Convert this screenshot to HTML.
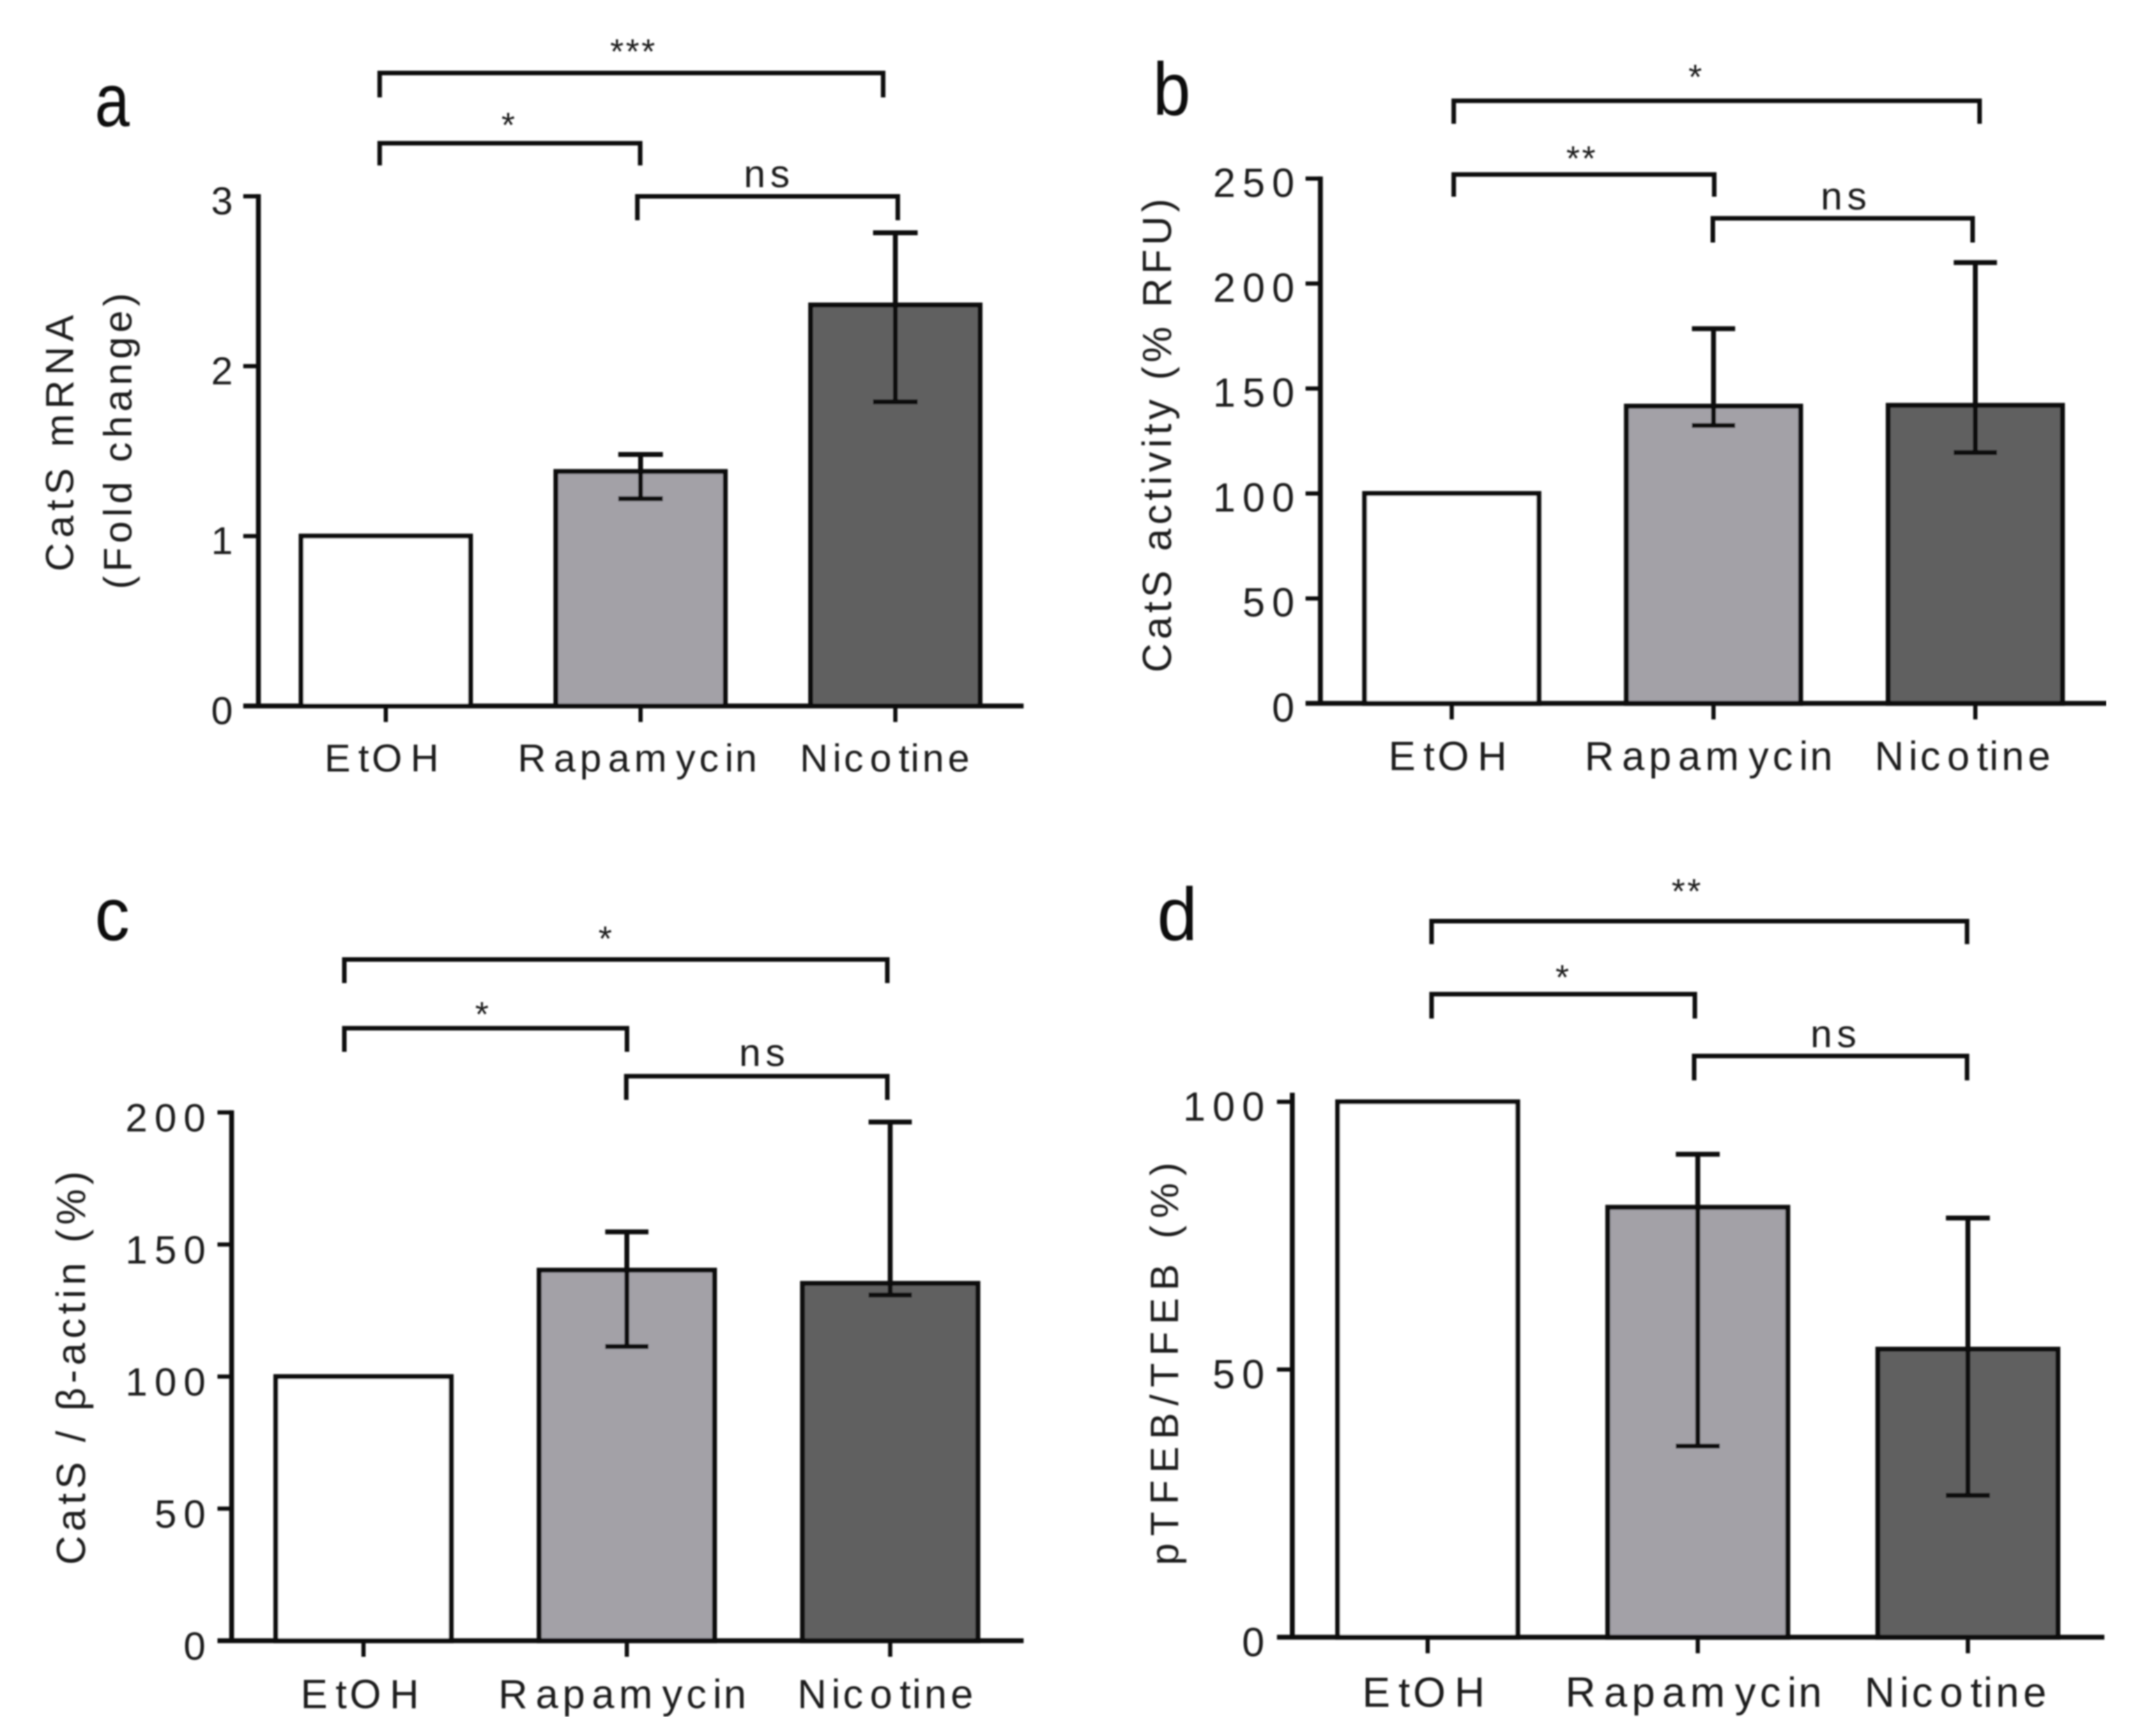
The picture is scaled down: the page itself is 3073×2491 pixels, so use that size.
<!DOCTYPE html>
<html lang="en">
<head>
<meta charset="utf-8">
<title>CatS and pTFEB bar charts</title>
<style>
html,body{margin:0;padding:0;background:#fff;}
svg{display:block;}
text{font-family:"Liberation Sans",sans-serif;fill:#1c1c1c;font-kerning:none;}
</style>
</head>
<body>
<svg id="figure" xmlns="http://www.w3.org/2000/svg" width="3073" height="2491" viewBox="0 0 3073 2491">
  <defs><filter id="soft" x="0" y="0" width="100%" height="100%"><feGaussianBlur stdDeviation="1"/></filter></defs>
  <rect width="3073" height="2491" fill="#fff"/>
  <g id="root" filter="url(#soft)"></g>
</svg>
<script>
// ---- chart data ----
const categories = ['EtOH', 'Rapamycin', 'Nicotine'];
const barColors = ['#ffffff', '#a3a1a7', '#606060'];

const meansA = [1, 1.38, 2.36];
const errHighA = [null, 1.48, 2.785];
const errLowA = [null, 1.22, 1.79];
const ticksA = [0, 1, 2, 3];
const bracketLabelsA = ['***', '*', 'ns'];

const meansB = [100, 141.6, 142];
const errHighB = [null, 178.5, 210];
const errLowB = [null, 132.4, 119.5];
const ticksB = [0, 50, 100, 150, 200, 250];
const bracketLabelsB = ['*', '**', 'ns'];

const meansC = [100, 140.3, 135.3];
const errHighC = [null, 154.8, 196.4];
const errLowC = [null, 111.4, 130.9];
const ticksC = [0, 50, 100, 150, 200];
const bracketLabelsC = ['*', '*', 'ns'];

const meansD = [100, 80.3, 53.8];
const errHighD = [null, 90.2, 78.3];
const errLowD = [null, 35.7, 26.5];
const ticksD = [0, 50, 100];
const bracketLabelsD = ['**', '*', 'ns'];

// ---- label letter gaps at 56px (the source figure has uneven tracking) ----
const labelGaps = [
  [0, 11, 4, 12],
  [0, 11.2, 6.1, 9.4, 6.4, 13.3, 5.3, 8.8, 2.6],
  [0, 6.7, 3.5, 9.3, 10.1, 1.7, 4.3, 5.4]
];

// ---- panel layouts (axis geometry, kept apart from data) ----
const layoutA = {id:'a', axisX:370.7, baseY:1013, unit:243.8, axisTopVal:3, tickLeft:349, axisRight:1468.5,
  first:553.5, step:365.5, barW:243, cap:32, tickFs:56, tickGap:0, tickRight:334, tickDy:26,
  letter:{x:136, y:181, fs:108, w:50},
  labelBase:1107, labelFs:56, labelStarts:[465.5,742.8,1147.5],
  titles:[{t:'CatS mRNA', x:105, c:636, len:368},{t:'(Fold change)', x:188.5, c:633, len:425}], titleFs:57,
  brackets:[{x1:544.7,x2:1267,y:104.7,d:139.7,lx:905,ly:68},{x1:544.7,x2:918.4,y:205.5,d:237.4,lx:726.5,ly:173.6},{x1:914.4,x2:1288,y:281.7,d:316,lx:1100,ly:253.4}]};

const layoutB = {id:'b', axisX:1894.3, baseY:1009.3, unit:3.012, axisTopVal:250, tickLeft:1873, axisRight:3022,
  first:2082.7, step:375.6, barW:250, cap:31, tickFs:58, tickGap:10, tickRight:1857, tickDy:26,
  letter:{x:1654, y:165, fs:108, w:54},
  labelBase:1105, labelFs:58, labelStarts:[1992,2273.5,2689.5],
  titles:[{t:'CatS activity (% RFU)', x:1680, c:625, len:680}], titleFs:58,
  brackets:[{x1:2085.6,x2:2840,y:144.6,d:177.6,lx:2429.5,ly:104.7},{x1:2085.6,x2:2459.3,y:250.4,d:282.3,lx:2265.5,ly:221.4},{x1:2457.3,x2:2830,y:313.2,d:348,lx:2645,ly:285.3}]};

const layoutC = {id:'c', axisX:332.3, baseY:2354.3, unit:3.79, axisTopVal:200, tickLeft:312, axisRight:1468.5,
  first:521.5, step:377.8, barW:251.6, cap:31, tickFs:57, tickGap:10, tickRight:295, tickDy:27,
  letter:{x:136, y:1349, fs:108, w:50},
  labelBase:2451, labelFs:58, labelStarts:[431.3,715,1144],
  titles:[{t:'CatS / β-actin (%)', x:122, c:1963, len:565}], titleFs:58,
  brackets:[{x1:494,x2:1273,y:1376.7,d:1410.6,lx:865.7,ly:1340.8},{x1:494,x2:899.5,y:1475.4,d:1509.3,lx:688.8,ly:1449.5},{x1:898.5,x2:1273,y:1544.3,d:1578.2,lx:1093.3,ly:1514.3}]};

const layoutD = {id:'d', axisX:1854, baseY:2349.3, unit:7.683, axisTopVal:101.3, tickLeft:1832, axisRight:3019,
  first:2048.2, step:387.5, barW:258.3, cap:31.5, tickFs:58, tickGap:10, tickRight:1814, tickDy:27,
  letter:{x:1660, y:1349, fs:108, w:58},
  labelBase:2449, labelFs:60, labelStarts:[1954.4,2245.8,2675],
  titles:[{t:'pTFEB/TFEB (%)', x:1690, c:1957, len:578}], titleFs:57,
  brackets:[{x1:2053.8,x2:2822,y:1321.8,d:1354.7,lx:2416.6,ly:1273},{x1:2053.8,x2:2431.5,y:1426.5,d:1461.5,lx:2238.7,ly:1396.6},{x1:2430.5,x2:2822,y:1515.3,d:1550.2,lx:2630.3,ly:1487.4}]};

// ---- drawing ----
const NS = 'http://www.w3.org/2000/svg';
const INK = '#111111';

function make(parent, tag, attrs, name) {
  const el = document.createElementNS(NS, tag);
  for (const k in attrs) el.setAttribute(k, attrs[k]);
  
  
  parent.appendChild(el);
  return el;
}
function line(parent, x1, y1, x2, y2, w, name) {
  return make(parent, 'line', {x1, y1, x2, y2, stroke: INK, 'stroke-width': w}, name);
}

function drawPanel(L, means, errHigh, errLow, ticks, bracketLabels) {
  const xScale = i => L.first + i * L.step;
  const yScale = v => L.baseY - v * L.unit;
  const g = make(document.getElementById('root'), 'g', {}, 'panel-' + L.id);

  // panel letter
  const letter = make(g, 'text', {x: L.letter.x, y: L.letter.y, 'font-size': L.letter.fs,
    textLength: L.letter.w, lengthAdjust: 'spacingAndGlyphs', style: 'fill:#111'}, 'panel-letter-' + L.id);
  letter.textContent = L.id;

  // bars
  means.forEach((m, i) => {
    const c = xScale(i);
    make(g, 'rect', {x: c - L.barW / 2, y: yScale(m), width: L.barW, height: L.baseY - yScale(m),
      fill: barColors[i], stroke: INK, 'stroke-width': 7}, 'bar-' + L.id + '-' + categories[i].toLowerCase());
  });

  // error bars
  means.forEach((m, i) => {
    if (errHigh[i] === null) return;
    const c = xScale(i);
    const e = make(g, 'g', {}, 'error-bar-' + L.id + '-' + categories[i].toLowerCase());
    line(e, c, yScale(errHigh[i]), c, yScale(errLow[i]), 7, 'error-stem');
    line(e, c - L.cap, yScale(errHigh[i]), c + L.cap, yScale(errHigh[i]), 7, 'error-cap-upper');
    line(e, c - L.cap, yScale(errLow[i]), c + L.cap, yScale(errLow[i]), 7, 'error-cap-lower');
  });

  // axes
  line(g, L.axisX, yScale(L.axisTopVal) - 3, L.axisX, L.baseY + 3, 7, 'y-axis-line');
  line(g, L.tickLeft, L.baseY, L.axisRight, L.baseY, 7, 'x-axis-line');

  // y ticks and labels
  ticks.forEach(v => {
    const y = yScale(v);
    line(g, L.tickLeft, y, L.axisX, y, 6, 'y-tick');
    const s = String(v);
    const attrs = {x: L.tickRight, y: y + L.tickDy, 'font-size': L.tickFs, 'text-anchor': 'end'};
    if (s.length > 1) {
      attrs.textLength = s.length * L.tickFs * 0.556 + (s.length - 1) * L.tickGap;
      attrs.lengthAdjust = 'spacing';
    }
    const t = make(g, 'text', attrs, 'y-tick-label');
    t.textContent = s;
  });

  // x ticks and labels
  categories.forEach((cat, i) => {
    line(g, xScale(i), L.baseY, xScale(i), L.baseY + 23, 6, 'x-tick');
    const gaps = labelGaps[i].map(d => (d * L.labelFs / 56).toFixed(1)).join(' ');
    const t = make(g, 'text', {x: L.labelStarts[i], y: L.labelBase, dx: gaps, 'font-size': L.labelFs}, 'x-tick-label');
    t.textContent = cat;
  });

  // y-axis titles
  L.titles.forEach(T => {
    const t = make(g, 'text', {transform: 'translate(' + T.x + ' ' + T.c + ') rotate(-90)', 'font-size': L.titleFs,
      'text-anchor': 'middle', textLength: T.len, lengthAdjust: 'spacing'}, 'y-axis-title');
    t.textContent = T.t;
  });

  // significance brackets
  L.brackets.forEach((b, i) => {
    make(g, 'path', {d: 'M' + b.x1 + ' ' + b.d + 'V' + b.y + 'H' + b.x2 + 'V' + b.d, fill: 'none',
      stroke: INK, 'stroke-width': 6.5}, 'significance-bracket');
    const lab = bracketLabels[i];
    let t;
    if (lab === 'ns') {
      t = make(g, 'text', {x: b.lx, y: b.ly + 15, 'font-size': 56, 'text-anchor': 'middle',
        textLength: 66, lengthAdjust: 'spacing'}, 'significance-label');
    } else {
      t = make(g, 'text', {x: b.lx + 4, y: b.ly + 23, 'font-size': 50, 'text-anchor': 'middle',
        'letter-spacing': 3}, 'significance-label');
    }
    t.textContent = lab;
  });
}

drawPanel(layoutA, meansA, errHighA, errLowA, ticksA, bracketLabelsA);
drawPanel(layoutB, meansB, errHighB, errLowB, ticksB, bracketLabelsB);
drawPanel(layoutC, meansC, errHighC, errLowC, ticksC, bracketLabelsC);
drawPanel(layoutD, meansD, errHighD, errLowD, ticksD, bracketLabelsD);
</script>
</body>
</html>
